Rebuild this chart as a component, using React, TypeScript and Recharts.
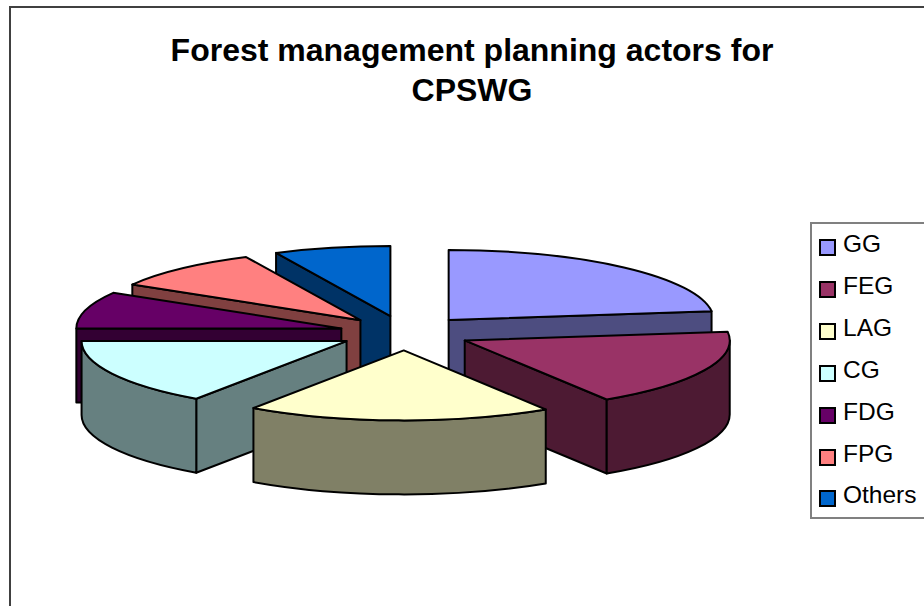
import React from "react";
import { PieChart, Pie, Legend } from "recharts";

const categories = ["GG", "FEG", "LAG", "CG", "FDG", "FPG", "Others"];
const shares = [23, 18, 18.6, 15.4, 8.5, 9.4, 7.1];
const topColors = ["#9999FF", "#993366", "#FFFFCC", "#CCFFFF", "#660066", "#FF8080", "#0066CC"];
const wallColors = ["#4D4D80", "#4D1A33", "#808066", "#668080", "#330033", "#804040", "#003366"];
const titleLines = ["Forest management planning actors for", "CPSWG"];
// Back-to-front order in which the exploded slices are painted.
const paintOrder = [0, 6, 5, 4, 1, 3, 2];

const pieData = categories.map((name, i) => ({ name, value: shares[i], fill: topColors[i] }));

const FLATTEN = 0.264;
const DEPTH = 74;
const EXPLODE = 66;
const STROKE = 2;

function Slice3D(props: any) {
  const { cx, cy, outerRadius, startAngle, endAngle, index } = props;
  const a = outerRadius;
  const b = outerRadius * FLATTEN;
  // clock angles, clockwise from 12 o'clock
  const t0 = ((90 - startAngle) * Math.PI) / 180;
  const t1 = ((90 - endAngle) * Math.PI) / 180;
  const tm = (t0 + t1) / 2;
  const ox = cx + EXPLODE * Math.sin(tm);
  const oy = cy - EXPLODE * FLATTEN * Math.cos(tm);
  const pt = (t: number) => [ox + a * Math.sin(t), oy - b * Math.cos(t)];
  const f = (n: number) => n.toFixed(2);
  const arcTo = (t: number, sweep: number, dy = 0) => {
    const p = pt(t);
    return `A${f(a)} ${f(b)} 0 0 ${sweep} ${f(p[0])} ${f(p[1] + dy)}`;
  };
  const [x0, y0] = pt(t0);
  const [x1, y1] = pt(t1);
  const quad = (x: number, y: number) =>
    `M${f(ox)} ${f(oy)}L${f(x)} ${f(y)}L${f(x)} ${f(y + DEPTH)}L${f(ox)} ${f(oy + DEPTH)}Z`;

  const faces: string[] = [];
  if (Math.sin(t0) < -0.01) faces.push(quad(x0, y0));
  if (Math.sin(t1) > 0.01) faces.push(quad(x1, y1));

  const w0 = Math.max(t0, Math.PI / 2);
  const w1 = Math.min(t1, (3 * Math.PI) / 2);
  let wall = "";
  if (w1 > w0) {
    const s = pt(w0);
    const e = pt(w1);
    wall = `M${f(s[0])} ${f(s[1])}${arcTo(w1, 1)}L${f(e[0])} ${f(e[1] + DEPTH)}${arcTo(w0, 0, DEPTH)}Z`;
  }
  const top = `M${f(ox)} ${f(oy)}L${f(x0)} ${f(y0)}${arcTo(t1, 1)}Z`;
  const common = { stroke: "#000", strokeWidth: STROKE, strokeLinejoin: "round" as const };
  return (
    <g>
      {faces.map((d, i) => (
        <path key={i} d={d} fill={wallColors[index]} {...common} />
      ))}
      {wall && <path d={wall} fill={wallColors[index]} {...common} />}
      <path d={top} fill={topColors[index]} {...common} />
    </g>
  );
}

function LegendBox() {
  return (
    <div
      style={{
        position: "absolute",
        left: 810,
        top: 222,
        width: 130,
        height: 293,
        border: "2px solid #808080",
        background: "#fff",
        boxSizing: "content-box",
      }}
    >
      {categories.map((c, i) => (
        <div key={c} style={{ position: "absolute", left: 0, top: 1 + i * 41.9, height: 42, width: 130 }}>
          <span
            style={{
              position: "absolute",
              left: 7,
              top: 14,
              width: 13,
              height: 13,
              border: "2px solid #000",
              background: topColors[i],
              boxSizing: "content-box",
            }}
          />
          <span
            style={{
              position: "absolute",
              left: 31,
              top: 2,
              fontSize: 24.5,
              lineHeight: "34px",
              color: "#000",
              fontFamily: "'Liberation Sans', Arial, sans-serif",
            }}
          >
            {c}
          </span>
        </div>
      ))}
    </div>
  );
}

export default function App() {
  return (
    <div style={{ position: "fixed", left: 0, top: 0, width: 924, height: 606, overflow: "hidden", background: "#fff" }}>
      <div
        style={{
          position: "absolute",
          left: 9,
          top: 6,
          width: 1000,
          height: 800,
          border: "2px solid #404040",
          boxSizing: "border-box",
        }}
      />
      <div
        style={{
          position: "absolute",
          left: 72,
          width: 800,
          top: 30,
          textAlign: "center",
          fontFamily: "'Liberation Sans', Arial, sans-serif",
          fontWeight: 700,
          fontSize: 32,
          lineHeight: "40px",
          color: "#000",
        }}
      >
        {titleLines.map((l) => (
          <div key={l}>{l}</div>
        ))}
      </div>
      <PieChart
        width={924}
        height={606}
        margin={{ top: 0, right: 0, bottom: 0, left: 0 }}
        style={{ position: "absolute", left: 0, top: 0 }}
      >
        {paintOrder.map((idx) => (
          <Pie
            key={idx}
            data={pieData}
            dataKey="value"
            nameKey="name"
            cx={405}
            cy={333}
            innerRadius={0}
            outerRadius={265}
            startAngle={90}
            endAngle={-270}
            paddingAngle={0}
            stroke="none"
            isAnimationActive={false}
            legendType="none"
            shape={(p: any) => (p.index === idx ? <Slice3D {...p} /> : <g />)}
          />
        ))}
        <Legend content={() => <LegendBox />} wrapperStyle={{ position: "absolute", left: 0, top: 0, width: 0, height: 0 }} />
      </PieChart>
    </div>
  );
}
